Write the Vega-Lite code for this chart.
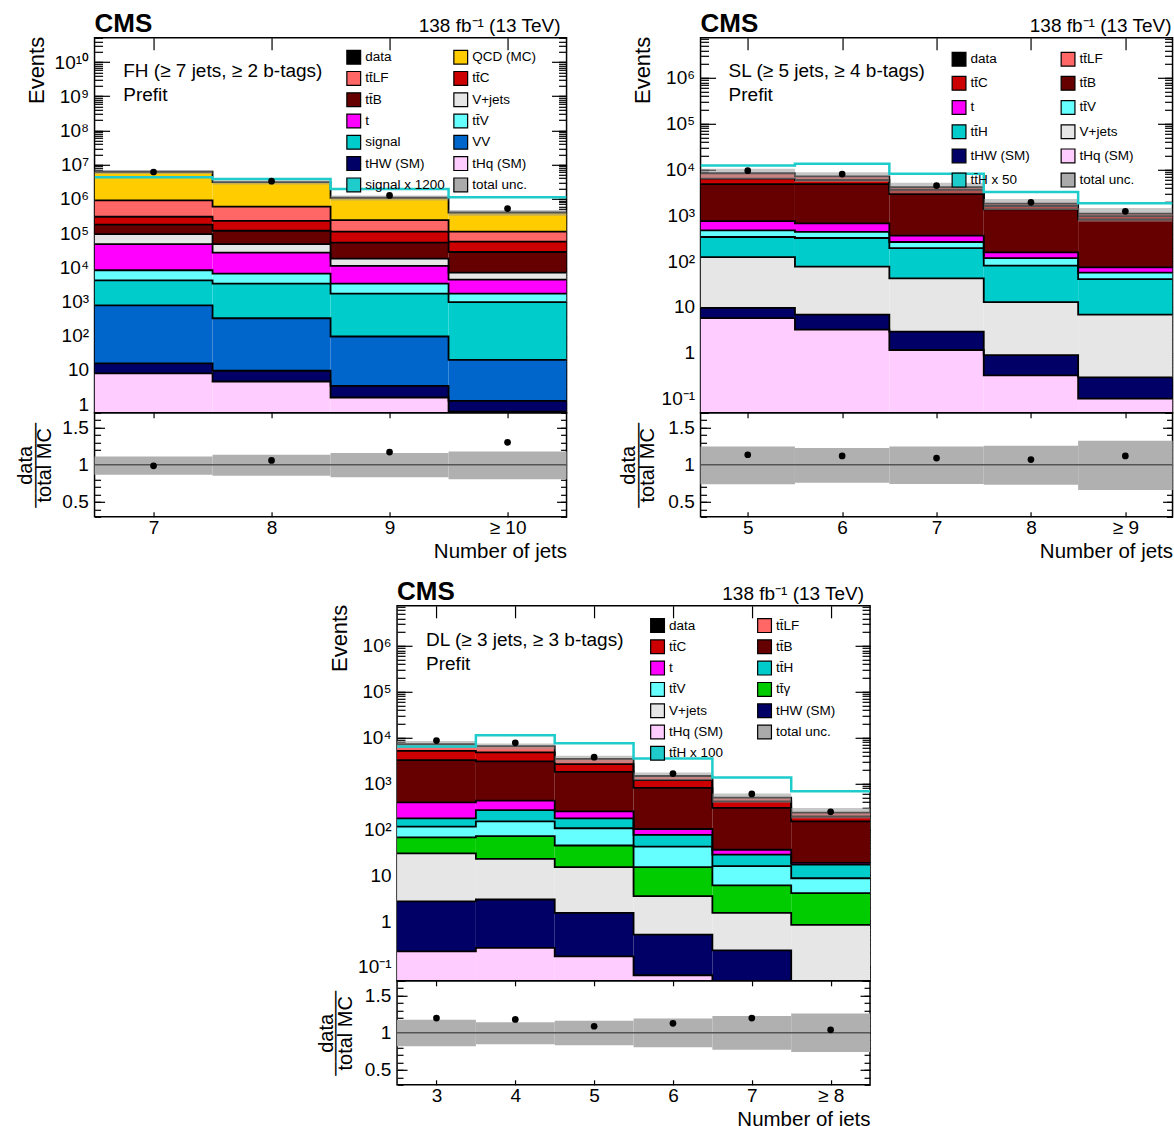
{
"$schema":"https://vega.github.io/schema/vega-lite/v6.json",
"background":"white",
"padding":{"left":14.3,"top":9.8,"right":0,"bottom":0},
"config":{
 "font":"Liberation Sans",
 "view":{"stroke":"black","strokeWidth":1.5},
 "axis":{"domain":false,"grid":false,"labelColor":"black","titleColor":"black","tickColor":"black","tickWidth":1.2,"titleFontWeight":"normal","labelOverlap":false},
 "legend":{"labelFontSize":13.5,"labelColor":"black","symbolSize":190,"labelOffset":4,"symbolType":"square","symbolStrokeColor":"black","symbolStrokeWidth":1.2,"symbolOpacity":1}
},
"datasets":{
 "fh_stack":[
  {"proc":"tHq (SM)","x0":6.5,"x1":7.5,"y0":0.01,"y1":7.9},{"proc":"tHq (SM)","x0":7.5,"x1":8.5,"y0":0.01,"y1":4.6},{"proc":"tHq (SM)","x0":8.5,"x1":9.5,"y0":0.01,"y1":1.57},{"proc":"tHq (SM)","x0":9.5,"x1":10.5,"y0":0.01,"y1":0.6},
  {"proc":"tHW (SM)","x0":6.5,"x1":7.5,"y0":7.9,"y1":15.6},{"proc":"tHW (SM)","x0":7.5,"x1":8.5,"y0":4.6,"y1":9.5},{"proc":"tHW (SM)","x0":8.5,"x1":9.5,"y0":1.57,"y1":3.45},{"proc":"tHW (SM)","x0":9.5,"x1":10.5,"y0":0.6,"y1":1.25},
  {"proc":"VV","x0":6.5,"x1":7.5,"y0":15.6,"y1":770},{"proc":"VV","x0":7.5,"x1":8.5,"y0":9.5,"y1":325},{"proc":"VV","x0":8.5,"x1":9.5,"y0":3.45,"y1":95},{"proc":"VV","x0":9.5,"x1":10.5,"y0":1.25,"y1":19.6},
  {"proc":"signal","x0":6.5,"x1":7.5,"y0":770,"y1":4150},{"proc":"signal","x0":7.5,"x1":8.5,"y0":325,"y1":3330},{"proc":"signal","x0":8.5,"x1":9.5,"y0":95,"y1":1700},{"proc":"signal","x0":9.5,"x1":10.5,"y0":19.6,"y1":960},
  {"proc":"tt\u0304V","x0":6.5,"x1":7.5,"y0":4150,"y1":8200},{"proc":"tt\u0304V","x0":7.5,"x1":8.5,"y0":3330,"y1":6550},{"proc":"tt\u0304V","x0":8.5,"x1":9.5,"y0":1700,"y1":3330},{"proc":"tt\u0304V","x0":9.5,"x1":10.5,"y0":960,"y1":1700},
  {"proc":"t","x0":6.5,"x1":7.5,"y0":8200,"y1":47500},{"proc":"t","x0":7.5,"x1":8.5,"y0":6550,"y1":27000},{"proc":"t","x0":8.5,"x1":9.5,"y0":3330,"y1":11000},{"proc":"t","x0":9.5,"x1":10.5,"y0":1700,"y1":4350},
  {"proc":"V+jets","x0":6.5,"x1":7.5,"y0":47500,"y1":93000},{"proc":"V+jets","x0":7.5,"x1":8.5,"y0":27000,"y1":47500},{"proc":"V+jets","x0":8.5,"x1":9.5,"y0":11000,"y1":18000},{"proc":"V+jets","x0":9.5,"x1":10.5,"y0":4350,"y1":7000},
  {"proc":"tt\u0304B","x0":6.5,"x1":7.5,"y0":93000,"y1":178000},{"proc":"tt\u0304B","x0":7.5,"x1":8.5,"y0":47500,"y1":117000},{"proc":"tt\u0304B","x0":8.5,"x1":9.5,"y0":18000,"y1":53000},{"proc":"tt\u0304B","x0":9.5,"x1":10.5,"y0":7000,"y1":28000},
  {"proc":"tt\u0304C","x0":6.5,"x1":7.5,"y0":178000,"y1":300000},{"proc":"tt\u0304C","x0":7.5,"x1":8.5,"y0":117000,"y1":229000},{"proc":"tt\u0304C","x0":8.5,"x1":9.5,"y0":53000,"y1":110000},{"proc":"tt\u0304C","x0":9.5,"x1":10.5,"y0":28000,"y1":56000},
  {"proc":"tt\u0304LF","x0":6.5,"x1":7.5,"y0":300000,"y1":910000},{"proc":"tt\u0304LF","x0":7.5,"x1":8.5,"y0":229000,"y1":590000},{"proc":"tt\u0304LF","x0":8.5,"x1":9.5,"y0":110000,"y1":240000},{"proc":"tt\u0304LF","x0":9.5,"x1":10.5,"y0":56000,"y1":110000},
  {"proc":"QCD (MC)","x0":6.5,"x1":7.5,"y0":910000,"y1":6200000},{"proc":"QCD (MC)","x0":7.5,"x1":8.5,"y0":590000,"y1":3100000},{"proc":"QCD (MC)","x0":8.5,"x1":9.5,"y0":240000,"y1":1080000},{"proc":"QCD (MC)","x0":9.5,"x1":10.5,"y0":110000,"y1":400000}
 ],
 "fh_bins":[
  {"x0":6.5,"x1":7.5,"xc":7,"data":6110000,"uLo":5360000,"uHi":6900000,"sig":4300000,"r":0.986,"rLo":0.981,"rHi":0.991,"bLo":0.865,"bHi":1.113},
  {"x0":7.5,"x1":8.5,"xc":8,"data":3280000,"uLo":2640000,"uHi":3520000,"sig":3800000,"r":1.059,"rLo":1.054,"rHi":1.064,"bLo":0.851,"bHi":1.135},
  {"x0":8.5,"x1":9.5,"xc":9,"data":1265000,"uLo":900000,"uHi":1250000,"sig":1950000,"r":1.171,"rLo":1.166,"rHi":1.176,"bLo":0.833,"bHi":1.158},
  {"x0":9.5,"x1":10.5,"xc":10,"data":521000,"uLo":322000,"uHi":472000,"sig":1120000,"r":1.302,"rLo":1.296,"rHi":1.308,"bLo":0.806,"bHi":1.18}
 ],
 "sl_stack":[
  {"proc":"tHq (SM)","x0":4.5,"x1":5.5,"y0":0.001,"y1":5.7},{"proc":"tHq (SM)","x0":5.5,"x1":6.5,"y0":0.001,"y1":3.2},{"proc":"tHq (SM)","x0":6.5,"x1":7.5,"y0":0.001,"y1":1.15},{"proc":"tHq (SM)","x0":7.5,"x1":8.5,"y0":0.001,"y1":0.32},{"proc":"tHq (SM)","x0":8.5,"x1":9.5,"y0":0.001,"y1":0.1},
  {"proc":"tHW (SM)","x0":4.5,"x1":5.5,"y0":5.7,"y1":9.6},{"proc":"tHW (SM)","x0":5.5,"x1":6.5,"y0":3.2,"y1":6.8},{"proc":"tHW (SM)","x0":6.5,"x1":7.5,"y0":1.15,"y1":2.9},{"proc":"tHW (SM)","x0":7.5,"x1":8.5,"y0":0.32,"y1":0.89},{"proc":"tHW (SM)","x0":8.5,"x1":9.5,"y0":0.1,"y1":0.29},
  {"proc":"V+jets","x0":4.5,"x1":5.5,"y0":9.6,"y1":122},{"proc":"V+jets","x0":5.5,"x1":6.5,"y0":6.8,"y1":76},{"proc":"V+jets","x0":6.5,"x1":7.5,"y0":2.9,"y1":42},{"proc":"V+jets","x0":7.5,"x1":8.5,"y0":0.89,"y1":12.7},{"proc":"V+jets","x0":8.5,"x1":9.5,"y0":0.29,"y1":6.8},
  {"proc":"tt\u0304H","x0":4.5,"x1":5.5,"y0":122,"y1":337},{"proc":"tt\u0304H","x0":5.5,"x1":6.5,"y0":76,"y1":320},{"proc":"tt\u0304H","x0":6.5,"x1":7.5,"y0":42,"y1":192},{"proc":"tt\u0304H","x0":7.5,"x1":8.5,"y0":12.7,"y1":80},{"proc":"tt\u0304H","x0":8.5,"x1":9.5,"y0":6.8,"y1":40.5},
  {"proc":"tt\u0304V","x0":4.5,"x1":5.5,"y0":337,"y1":470},{"proc":"tt\u0304V","x0":5.5,"x1":6.5,"y0":320,"y1":436},{"proc":"tt\u0304V","x0":6.5,"x1":7.5,"y0":192,"y1":262},{"proc":"tt\u0304V","x0":7.5,"x1":8.5,"y0":80,"y1":116},{"proc":"tt\u0304V","x0":8.5,"x1":9.5,"y0":40.5,"y1":56},
  {"proc":"t","x0":4.5,"x1":5.5,"y0":470,"y1":750},{"proc":"t","x0":5.5,"x1":6.5,"y0":436,"y1":665},{"proc":"t","x0":6.5,"x1":7.5,"y0":262,"y1":360},{"proc":"t","x0":7.5,"x1":8.5,"y0":116,"y1":155},{"proc":"t","x0":8.5,"x1":9.5,"y0":56,"y1":73},
  {"proc":"tt\u0304B","x0":4.5,"x1":5.5,"y0":750,"y1":4800},{"proc":"tt\u0304B","x0":5.5,"x1":6.5,"y0":665,"y1":4800},{"proc":"tt\u0304B","x0":6.5,"x1":7.5,"y0":360,"y1":2900},{"proc":"tt\u0304B","x0":7.5,"x1":8.5,"y0":155,"y1":1350},{"proc":"tt\u0304B","x0":8.5,"x1":9.5,"y0":73,"y1":815},
  {"proc":"tt\u0304C","x0":4.5,"x1":5.5,"y0":4800,"y1":6300},{"proc":"tt\u0304C","x0":5.5,"x1":6.5,"y0":4800,"y1":5900},{"proc":"tt\u0304C","x0":6.5,"x1":7.5,"y0":2900,"y1":3600},{"proc":"tt\u0304C","x0":7.5,"x1":8.5,"y0":1350,"y1":1600},{"proc":"tt\u0304C","x0":8.5,"x1":9.5,"y0":815,"y1":960},
  {"proc":"tt\u0304LF","x0":4.5,"x1":5.5,"y0":6300,"y1":8300},{"proc":"tt\u0304LF","x0":5.5,"x1":6.5,"y0":5900,"y1":7100},{"proc":"tt\u0304LF","x0":6.5,"x1":7.5,"y0":3600,"y1":4100},{"proc":"tt\u0304LF","x0":7.5,"x1":8.5,"y0":1600,"y1":1800},{"proc":"tt\u0304LF","x0":8.5,"x1":9.5,"y0":960,"y1":1090}
 ],
 "sl_bins":[
  {"x0":4.5,"x1":5.5,"xc":5,"data":9420,"uLo":6130,"uHi":10360,"sig":12300,"r":1.135,"rLo":1.123,"rHi":1.147,"bLo":0.739,"bHi":1.248},
  {"x0":5.5,"x1":6.5,"xc":6,"data":7950,"uLo":5375,"uHi":8700,"sig":13400,"r":1.12,"rLo":1.108,"rHi":1.132,"bLo":0.757,"bHi":1.225},
  {"x0":6.5,"x1":7.5,"xc":7,"data":4470,"uLo":3046,"uHi":5117,"sig":8100,"r":1.09,"rLo":1.074,"rHi":1.106,"bLo":0.743,"bHi":1.248},
  {"x0":7.5,"x1":8.5,"xc":8,"data":1926,"uLo":1314,"uHi":2263,"sig":3250,"r":1.07,"rLo":1.046,"rHi":1.094,"bLo":0.73,"bHi":1.257},
  {"x0":8.5,"x1":9.5,"xc":9,"data":1221,"uLo":722,"uHi":1443,"sig":1830,"r":1.12,"rLo":1.09,"rHi":1.15,"bLo":0.662,"bHi":1.324}
 ],
 "dl_stack":[
  {"proc":"tHq (SM)","x0":2.5,"x1":3.5,"y0":0.001,"y1":0.22},{"proc":"tHq (SM)","x0":3.5,"x1":4.5,"y0":0.001,"y1":0.26},{"proc":"tHq (SM)","x0":4.5,"x1":5.5,"y0":0.001,"y1":0.17},{"proc":"tHq (SM)","x0":5.5,"x1":6.5,"y0":0.001,"y1":0.066},{"proc":"tHq (SM)","x0":6.5,"x1":7.5,"y0":0.001,"y1":0.02},{"proc":"tHq (SM)","x0":7.5,"x1":8.5,"y0":0.001,"y1":0.005},
  {"proc":"tHW (SM)","x0":2.5,"x1":3.5,"y0":0.22,"y1":2.7},{"proc":"tHW (SM)","x0":3.5,"x1":4.5,"y0":0.26,"y1":2.96},{"proc":"tHW (SM)","x0":4.5,"x1":5.5,"y0":0.17,"y1":1.52},{"proc":"tHW (SM)","x0":5.5,"x1":6.5,"y0":0.066,"y1":0.51},{"proc":"tHW (SM)","x0":6.5,"x1":7.5,"y0":0.02,"y1":0.23},{"proc":"tHW (SM)","x0":7.5,"x1":8.5,"y0":0.005,"y1":0.01},
  {"proc":"V+jets","x0":2.5,"x1":3.5,"y0":2.7,"y1":30},{"proc":"V+jets","x0":3.5,"x1":4.5,"y0":2.96,"y1":22.7},{"proc":"V+jets","x0":4.5,"x1":5.5,"y0":1.52,"y1":15},{"proc":"V+jets","x0":5.5,"x1":6.5,"y0":0.51,"y1":3.5},{"proc":"V+jets","x0":6.5,"x1":7.5,"y0":0.23,"y1":1.52},{"proc":"V+jets","x0":7.5,"x1":8.5,"y0":0.01,"y1":0.83},
  {"proc":"tt\u0304\u03b3","x0":2.5,"x1":3.5,"y0":30,"y1":67},{"proc":"tt\u0304\u03b3","x0":3.5,"x1":4.5,"y0":22.7,"y1":71},{"proc":"tt\u0304\u03b3","x0":4.5,"x1":5.5,"y0":15,"y1":44.5},{"proc":"tt\u0304\u03b3","x0":5.5,"x1":6.5,"y0":3.5,"y1":15},{"proc":"tt\u0304\u03b3","x0":6.5,"x1":7.5,"y0":1.52,"y1":6},{"proc":"tt\u0304\u03b3","x0":7.5,"x1":8.5,"y0":0.83,"y1":4.07},
  {"proc":"tt\u0304V","x0":2.5,"x1":3.5,"y0":67,"y1":115},{"proc":"tt\u0304V","x0":3.5,"x1":4.5,"y0":71,"y1":150},{"proc":"tt\u0304V","x0":4.5,"x1":5.5,"y0":44.5,"y1":106},{"proc":"tt\u0304V","x0":5.5,"x1":6.5,"y0":15,"y1":42},{"proc":"tt\u0304V","x0":6.5,"x1":7.5,"y0":6,"y1":15.8},{"proc":"tt\u0304V","x0":7.5,"x1":8.5,"y0":4.07,"y1":8.6},
  {"proc":"tt\u0304H","x0":2.5,"x1":3.5,"y0":115,"y1":174},{"proc":"tt\u0304H","x0":3.5,"x1":4.5,"y0":150,"y1":264},{"proc":"tt\u0304H","x0":4.5,"x1":5.5,"y0":106,"y1":174},{"proc":"tt\u0304H","x0":5.5,"x1":6.5,"y0":42,"y1":76},{"proc":"tt\u0304H","x0":6.5,"x1":7.5,"y0":15.8,"y1":28.2},{"proc":"tt\u0304H","x0":7.5,"x1":8.5,"y0":8.6,"y1":17.1},
  {"proc":"t","x0":2.5,"x1":3.5,"y0":174,"y1":388},{"proc":"t","x0":3.5,"x1":4.5,"y0":264,"y1":422},{"proc":"t","x0":4.5,"x1":5.5,"y0":174,"y1":247},{"proc":"t","x0":5.5,"x1":6.5,"y0":76,"y1":102},{"proc":"t","x0":6.5,"x1":7.5,"y0":28.2,"y1":36},{"proc":"t","x0":7.5,"x1":8.5,"y0":17.1,"y1":18.6},
  {"proc":"tt\u0304B","x0":2.5,"x1":3.5,"y0":388,"y1":3240},{"proc":"tt\u0304B","x0":3.5,"x1":4.5,"y0":422,"y1":3030},{"proc":"tt\u0304B","x0":4.5,"x1":5.5,"y0":247,"y1":1800},{"proc":"tt\u0304B","x0":5.5,"x1":6.5,"y0":102,"y1":800},{"proc":"tt\u0304B","x0":6.5,"x1":7.5,"y0":36,"y1":294},{"proc":"tt\u0304B","x0":7.5,"x1":8.5,"y0":18.6,"y1":150},
  {"proc":"tt\u0304C","x0":2.5,"x1":3.5,"y0":3240,"y1":5140},{"proc":"tt\u0304C","x0":3.5,"x1":4.5,"y0":3030,"y1":4760},{"proc":"tt\u0304C","x0":4.5,"x1":5.5,"y0":1800,"y1":2650},{"proc":"tt\u0304C","x0":5.5,"x1":6.5,"y0":800,"y1":1190},{"proc":"tt\u0304C","x0":6.5,"x1":7.5,"y0":294,"y1":409},{"proc":"tt\u0304C","x0":7.5,"x1":8.5,"y0":150,"y1":191},
  {"proc":"tt\u0304LF","x0":2.5,"x1":3.5,"y0":5140,"y1":7200},{"proc":"tt\u0304LF","x0":3.5,"x1":4.5,"y0":4760,"y1":6550},{"proc":"tt\u0304LF","x0":4.5,"x1":5.5,"y0":2650,"y1":3450},{"proc":"tt\u0304LF","x0":5.5,"x1":6.5,"y0":1190,"y1":1460},{"proc":"tt\u0304LF","x0":6.5,"x1":7.5,"y0":409,"y1":495},{"proc":"tt\u0304LF","x0":7.5,"x1":8.5,"y0":191,"y1":232}
 ],
 "dl_bins":[
  {"x0":2.5,"x1":3.5,"xc":3,"data":8626,"uLo":5900,"uHi":8470,"sig":6450,"r":1.198,"rLo":1.186,"rHi":1.21,"bLo":0.819,"bHi":1.176},
  {"x0":3.5,"x1":4.5,"xc":4,"data":7729,"uLo":5540,"uHi":7470,"sig":11300,"r":1.18,"rLo":1.168,"rHi":1.192,"bLo":0.846,"bHi":1.141},
  {"x0":4.5,"x1":5.5,"xc":5,"data":3754,"uLo":2870,"uHi":4010,"sig":7600,"r":1.088,"rLo":1.072,"rHi":1.104,"bLo":0.833,"bHi":1.163},
  {"x0":5.5,"x1":6.5,"xc":6,"data":1647,"uLo":1177,"uHi":1743,"sig":3500,"r":1.128,"rLo":1.108,"rHi":1.148,"bLo":0.806,"bHi":1.194},
  {"x0":6.5,"x1":7.5,"xc":7,"data":593,"uLo":382,"uHi":606,"sig":1350,"r":1.198,"rLo":1.175,"rHi":1.221,"bLo":0.771,"bHi":1.225},
  {"x0":7.5,"x1":8.5,"xc":8,"data":241,"uLo":172,"uHi":292,"sig":675,"r":1.04,"rLo":1.01,"rHi":1.07,"bLo":0.74,"bHi":1.26}
 ]
},
"vconcat":[
 {"hconcat":[
  {"vconcat":[
   {"width":472,"height":375,
    "layer":[
     {"data":{"name":"fh_stack"},"mark":{"type":"rect","clip":true},
      "encoding":{
       "x":{"field":"x0","type":"quantitative","scale":{"domain":[6.5,10.5],"nice":false,"zero":false},"axis":{"orient":"bottom","values":[7,8,9,10],"labels":false,"tickSize":-12,"title":null}},
       "x2":{"field":"x1"},
       "y":{"field":"y1","type":"quantitative","scale":{"type":"log","domain":[0.56,5.1e10],"nice":false},"axis":{"orient":"left","values":[1,10,100,1000,10000,100000,1000000,10000000,100000000,1000000000,10000000000],"labelExpr":"datum.value < 5 ? '1' : datum.value < 50 ? '10' : datum.value < 500 ? '10²' : datum.value < 5000 ? '10³' : datum.value < 50000 ? '10⁴' : datum.value < 500000 ? '10⁵' : datum.value < 5000000 ? '10⁶' : datum.value < 50000000 ? '10⁷' : datum.value < 500000000 ? '10⁸' : datum.value < 5000000000 ? '10⁹' : '10¹⁰'","tickSize":-15,"labelPadding":21,"labelFontSize":19,"title":"Events","titleFontSize":22,"titleAngle":270,"titleAlign":"right","titleBaseline":"alphabetic","titleX":-51,"titleY":-1.5}},
       "y2":{"field":"y0"},
       "color":{"field":"proc","type":"nominal",
        "scale":{"domain":["data","tt\u0304LF","tt\u0304B","t","signal","tHW (SM)","signal x 1200","QCD (MC)","tt\u0304C","V+jets","tt\u0304V","VV","tHq (SM)","total unc."],
                 "range":["#000000","#FF6666","#660000","#FF00FF","#00CCCC","#000066","#1ECCCC","#FFCC00","#CC0000","#E6E6E6","#66FFFF","#0066CC","#FFCCFF","#AAAAAA"]},
        "legend":{"orient":"none","legendX":251.7,"legendY":11.8,"columns":2,"columnPadding":6,"rowPadding":2.3,"title":null}}
      }},
     {"data":{"name":"fh_stack"},"transform":[{"fold":["x0","x1"],"as":["k","xv"]}],
      "mark":{"type":"line","color":"black","strokeWidth":1.8,"clip":true},
      "encoding":{
       "x":{"field":"xv","type":"quantitative","scale":{"domain":[6.5,10.5],"nice":false,"zero":false},"axis":{"orient":"top","values":[7,8,9,10],"labels":false,"tickSize":-12,"title":null}},
       "y":{"field":"y1","type":"quantitative","scale":{"type":"log","domain":[0.56,5.1e10],"nice":false},"axis":{"orient":"right","values":[1,10,100,1000,10000,100000,1000000,10000000,100000000,1000000000,10000000000],"labels":false,"tickSize":-15,"title":null}},
       "detail":{"field":"proc"},
       "order":[{"field":"xv","type":"quantitative"},{"field":"x0","type":"quantitative"}]
      }},
     {"data":{"name":"fh_bins"},"mark":{"type":"rect","color":"#999999","opacity":0.55,"clip":true},
      "encoding":{
       "x":{"field":"x0","type":"quantitative","scale":{"domain":[6.5,10.5],"nice":false,"zero":false},"axis":null},
       "x2":{"field":"x1"},
       "y":{"field":"uLo","type":"quantitative","scale":{"type":"log","domain":[0.56,5.1e10],"nice":false},"axis":{"orient":"left","tickCount":100,"labels":false,"tickSize":-8,"title":null}},
       "y2":{"field":"uHi"}
      }},
     {"data":{"name":"fh_bins"},"transform":[{"fold":["x0","x1"],"as":["k","xv"]}],
      "mark":{"type":"line","color":"#1ECCCC","strokeWidth":2.5,"clip":true},
      "encoding":{
       "x":{"field":"xv","type":"quantitative","scale":{"domain":[6.5,10.5],"nice":false,"zero":false},"axis":null},
       "y":{"field":"sig","type":"quantitative","scale":{"type":"log","domain":[0.56,5.1e10],"nice":false},"axis":{"orient":"right","tickCount":100,"labels":false,"tickSize":-8,"title":null}},
       "order":[{"field":"xv","type":"quantitative"},{"field":"x0","type":"quantitative"}]
      }},
     {"data":{"name":"fh_bins"},"mark":{"type":"point","filled":true,"color":"black","size":45,"opacity":1},
      "encoding":{
       "x":{"field":"xc","type":"quantitative","scale":{"domain":[6.5,10.5],"nice":false,"zero":false},"axis":null},
       "y":{"field":"data","type":"quantitative","scale":{"type":"log","domain":[0.56,5.1e10],"nice":false},"axis":null}
      }},
     {"data":{"values":[{}]},"mark":{"type":"text","align":"left","baseline":"middle","fontSize":19},
      "encoding":{"x":{"datum":6.743,"type":"quantitative","scale":{"domain":[6.5,10.5],"nice":false,"zero":false},"axis":null},"y":{"datum":5.4e9,"type":"quantitative","scale":{"type":"log","domain":[0.56,5.1e10],"nice":false},"axis":null},"text":{"value":"FH (≥ 7 jets, ≥ 2 b-tags)"}}},
     {"data":{"values":[{}]},"mark":{"type":"text","align":"left","baseline":"middle","fontSize":19},
      "encoding":{"x":{"datum":6.743,"type":"quantitative","scale":{"domain":[6.5,10.5],"nice":false,"zero":false},"axis":null},"y":{"datum":1.07e9,"type":"quantitative","scale":{"type":"log","domain":[0.56,5.1e10],"nice":false},"axis":null},"text":{"value":"Prefit"}}},
     {"data":{"values":[{}]},"mark":{"type":"text","align":"left","baseline":"alphabetic","fontSize":26,"fontWeight":"bold"},
      "encoding":{"x":{"datum":6.5,"type":"quantitative","scale":{"domain":[6.5,10.5],"nice":false,"zero":false},"axis":null},"y":{"datum":7.6e10,"type":"quantitative","scale":{"type":"log","domain":[0.56,5.1e10],"nice":false},"axis":null},"text":{"value":"CMS"}}},
     {"data":{"values":[{}]},"mark":{"type":"text","align":"right","baseline":"alphabetic","fontSize":19},
      "encoding":{"x":{"datum":10.449,"type":"quantitative","scale":{"domain":[6.5,10.5],"nice":false,"zero":false},"axis":null},"y":{"datum":7.6e10,"type":"quantitative","scale":{"type":"log","domain":[0.56,5.1e10],"nice":false},"axis":null},"text":{"value":"138 fb⁻¹ (13 TeV)"}}}
    ],
    "resolve":{"axis":{"x":"independent","y":"independent"}}
   },
   {"width":472,"height":104,
    "layer":[
     {"data":{"name":"fh_bins"},"mark":{"type":"rect","color":"#B0B0B0"},
      "encoding":{
       "x":{"field":"x0","type":"quantitative","scale":{"domain":[6.5,10.5],"nice":false,"zero":false},"axis":{"orient":"bottom","values":[7,8,9,10],"format":"d","labelExpr":"datum.value == 10 ? '≥ 10' : datum.label","tickSize":-5,"labelPadding":6.3,"labelFontSize":19,"title":"Number of jets","titleFontSize":20.5,"titleAlign":"right","titleBaseline":"alphabetic","titleX":472,"titleY":40.5}},
       "x2":{"field":"x1"},
       "y":{"field":"bLo","type":"quantitative","scale":{"domain":[0.3,1.7],"nice":false,"zero":false},"axis":{"orient":"left","values":[0.5,1,1.5],"labelExpr":"datum.value == 1 ? '1' : datum.label","tickSize":-10,"labelPadding":16.3,"labelFontSize":19,"title":["data","──────","total MC"],"titleFontSize":20,"titleLineHeight":9.5,"titleAngle":270,"titleAlign":"center","titleBaseline":"alphabetic","titleX":-63,"titleY":52}},
       "y2":{"field":"bHi"}
      }},
     {"data":{"values":[{}]},"mark":{"type":"rule","color":"#555555","strokeWidth":1.5},
      "encoding":{"y":{"datum":1,"type":"quantitative","scale":{"domain":[0.3,1.7],"nice":false,"zero":false},"axis":null}}},
     {"data":{"name":"fh_bins"},"mark":{"type":"rule","color":"black","strokeWidth":1.5},
      "encoding":{
       "x":{"field":"xc","type":"quantitative","scale":{"domain":[6.5,10.5],"nice":false,"zero":false},"axis":null},
       "y":{"field":"rLo","type":"quantitative","scale":{"domain":[0.3,1.7],"nice":false,"zero":false},"axis":{"orient":"left","values":[0.3,0.4,0.5,0.6,0.7,0.8,0.9,1,1.1,1.2,1.3,1.4,1.5,1.6,1.7],"labels":false,"tickSize":-6,"title":null}},
       "y2":{"field":"rHi"}
      }},
     {"data":{"name":"fh_bins"},"mark":{"type":"rule","color":"black","strokeWidth":1.5},
      "encoding":{
       "x":{"field":"xc","type":"quantitative","scale":{"domain":[6.5,10.5],"nice":false,"zero":false},"axis":null},
       "y":{"field":"rLo","type":"quantitative","scale":{"domain":[0.3,1.7],"nice":false,"zero":false},"axis":{"orient":"right","values":[0.3,0.4,0.5,0.6,0.7,0.8,0.9,1,1.1,1.2,1.3,1.4,1.5,1.6,1.7],"labels":false,"tickSize":-6,"title":null}},
       "y2":{"field":"rHi"}
      }},
     {"data":{"name":"fh_bins"},"mark":{"type":"point","filled":true,"color":"black","size":45,"opacity":1},
      "encoding":{
       "x":{"field":"xc","type":"quantitative","scale":{"domain":[6.5,10.5],"nice":false,"zero":false},"axis":{"orient":"top","values":[7,8,9,10],"labels":false,"tickSize":-5,"title":null}},
       "y":{"field":"r","type":"quantitative","scale":{"domain":[0.3,1.7],"nice":false,"zero":false},"axis":{"orient":"right","values":[0.5,1,1.5],"labels":false,"tickSize":-10,"title":null}}
      }}
    ],
    "resolve":{"axis":{"x":"independent","y":"independent"}}
   }
  ],"spacing":0,"bounds":"flush"},
  {"vconcat":[
   {"width":472,"height":375,
    "layer":[
     {"data":{"name":"sl_stack"},"mark":{"type":"rect","clip":true},
      "encoding":{
       "x":{"field":"x0","type":"quantitative","scale":{"domain":[4.5,9.5],"nice":false,"zero":false},"axis":{"orient":"bottom","values":[5,6,7,8,9],"labels":false,"tickSize":-12,"title":null}},
       "x2":{"field":"x1"},
       "y":{"field":"y1","type":"quantitative","scale":{"type":"log","domain":[0.049,7.5e6],"nice":false},"axis":{"orient":"left","values":[0.1,1,10,100,1000,10000,100000,1000000],"labelExpr":"datum.value < 0.5 ? '10⁻¹' : datum.value < 5 ? '1' : datum.value < 50 ? '10' : datum.value < 500 ? '10²' : datum.value < 5000 ? '10³' : datum.value < 50000 ? '10⁴' : datum.value < 500000 ? '10⁵' : '10⁶'","tickSize":-15,"labelPadding":21,"labelFontSize":19,"title":"Events","titleFontSize":22,"titleAngle":270,"titleAlign":"right","titleBaseline":"alphabetic","titleX":-51,"titleY":-1.5}},
       "y2":{"field":"y0"},
       "color":{"field":"proc","type":"nominal",
        "scale":{"domain":["data","tt\u0304C","t","tt\u0304H","tHW (SM)","tt\u0304H x 50","tt\u0304LF","tt\u0304B","tt\u0304V","V+jets","tHq (SM)","total unc."],
                 "range":["#000000","#CC0000","#FF00FF","#00CCCC","#000066","#1ECCCC","#FF6666","#660000","#66FFFF","#E6E6E6","#FFCCFF","#AAAAAA"]},
        "legend":{"orient":"none","legendX":251,"legendY":13.8,"columns":2,"columnPadding":28,"rowPadding":5.2,"title":null}}
      }},
     {"data":{"name":"sl_stack"},"transform":[{"fold":["x0","x1"],"as":["k","xv"]}],
      "mark":{"type":"line","color":"black","strokeWidth":1.8,"clip":true},
      "encoding":{
       "x":{"field":"xv","type":"quantitative","scale":{"domain":[4.5,9.5],"nice":false,"zero":false},"axis":{"orient":"top","values":[5,6,7,8,9],"labels":false,"tickSize":-12,"title":null}},
       "y":{"field":"y1","type":"quantitative","scale":{"type":"log","domain":[0.049,7.5e6],"nice":false},"axis":{"orient":"right","values":[0.1,1,10,100,1000,10000,100000,1000000],"labels":false,"tickSize":-15,"title":null}},
       "detail":{"field":"proc"},
       "order":[{"field":"xv","type":"quantitative"},{"field":"x0","type":"quantitative"}]
      }},
     {"data":{"name":"sl_bins"},"mark":{"type":"rect","color":"#999999","opacity":0.55,"clip":true},
      "encoding":{
       "x":{"field":"x0","type":"quantitative","scale":{"domain":[4.5,9.5],"nice":false,"zero":false},"axis":null},
       "x2":{"field":"x1"},
       "y":{"field":"uLo","type":"quantitative","scale":{"type":"log","domain":[0.049,7.5e6],"nice":false},"axis":{"orient":"left","tickCount":100,"labels":false,"tickSize":-8,"title":null}},
       "y2":{"field":"uHi"}
      }},
     {"data":{"name":"sl_bins"},"transform":[{"fold":["x0","x1"],"as":["k","xv"]}],
      "mark":{"type":"line","color":"#1ECCCC","strokeWidth":2.5,"clip":true},
      "encoding":{
       "x":{"field":"xv","type":"quantitative","scale":{"domain":[4.5,9.5],"nice":false,"zero":false},"axis":null},
       "y":{"field":"sig","type":"quantitative","scale":{"type":"log","domain":[0.049,7.5e6],"nice":false},"axis":{"orient":"right","tickCount":100,"labels":false,"tickSize":-8,"title":null}},
       "order":[{"field":"xv","type":"quantitative"},{"field":"x0","type":"quantitative"}]
      }},
     {"data":{"name":"sl_bins"},"mark":{"type":"point","filled":true,"color":"black","size":45,"opacity":1},
      "encoding":{
       "x":{"field":"xc","type":"quantitative","scale":{"domain":[4.5,9.5],"nice":false,"zero":false},"axis":null},
       "y":{"field":"data","type":"quantitative","scale":{"type":"log","domain":[0.049,7.5e6],"nice":false},"axis":null}
      }},
     {"data":{"values":[{}]},"mark":{"type":"text","align":"left","baseline":"middle","fontSize":19},
      "encoding":{"x":{"datum":4.797,"type":"quantitative","scale":{"domain":[4.5,9.5],"nice":false,"zero":false},"axis":null},"y":{"datum":1.4e6,"type":"quantitative","scale":{"type":"log","domain":[0.049,7.5e6],"nice":false},"axis":null},"text":{"value":"SL (≥ 5 jets, ≥ 4 b-tags)"}}},
     {"data":{"values":[{}]},"mark":{"type":"text","align":"left","baseline":"middle","fontSize":19},
      "encoding":{"x":{"datum":4.797,"type":"quantitative","scale":{"domain":[4.5,9.5],"nice":false,"zero":false},"axis":null},"y":{"datum":4.19e5,"type":"quantitative","scale":{"type":"log","domain":[0.049,7.5e6],"nice":false},"axis":null},"text":{"value":"Prefit"}}},
     {"data":{"values":[{}]},"mark":{"type":"text","align":"left","baseline":"alphabetic","fontSize":26,"fontWeight":"bold"},
      "encoding":{"x":{"datum":4.5,"type":"quantitative","scale":{"domain":[4.5,9.5],"nice":false,"zero":false},"axis":null},"y":{"datum":1.01e7,"type":"quantitative","scale":{"type":"log","domain":[0.049,7.5e6],"nice":false},"axis":null},"text":{"value":"CMS"}}},
     {"data":{"values":[{}]},"mark":{"type":"text","align":"right","baseline":"alphabetic","fontSize":19},
      "encoding":{"x":{"datum":9.49,"type":"quantitative","scale":{"domain":[4.5,9.5],"nice":false,"zero":false},"axis":null},"y":{"datum":1.01e7,"type":"quantitative","scale":{"type":"log","domain":[0.049,7.5e6],"nice":false},"axis":null},"text":{"value":"138 fb⁻¹ (13 TeV)"}}}
    ],
    "resolve":{"axis":{"x":"independent","y":"independent"}}
   },
   {"width":472,"height":104,
    "layer":[
     {"data":{"name":"sl_bins"},"mark":{"type":"rect","color":"#B0B0B0"},
      "encoding":{
       "x":{"field":"x0","type":"quantitative","scale":{"domain":[4.5,9.5],"nice":false,"zero":false},"axis":{"orient":"bottom","values":[5,6,7,8,9],"format":"d","labelExpr":"datum.value == 9 ? '≥ 9' : datum.label","tickSize":-5,"labelPadding":6.3,"labelFontSize":19,"title":"Number of jets","titleFontSize":20.5,"titleAlign":"right","titleBaseline":"alphabetic","titleX":472,"titleY":40.5}},
       "x2":{"field":"x1"},
       "y":{"field":"bLo","type":"quantitative","scale":{"domain":[0.3,1.7],"nice":false,"zero":false},"axis":{"orient":"left","values":[0.5,1,1.5],"labelExpr":"datum.value == 1 ? '1' : datum.label","tickSize":-10,"labelPadding":16.3,"labelFontSize":19,"title":["data","──────","total MC"],"titleFontSize":20,"titleLineHeight":9.5,"titleAngle":270,"titleAlign":"center","titleBaseline":"alphabetic","titleX":-66,"titleY":52}},
       "y2":{"field":"bHi"}
      }},
     {"data":{"values":[{}]},"mark":{"type":"rule","color":"#555555","strokeWidth":1.5},
      "encoding":{"y":{"datum":1,"type":"quantitative","scale":{"domain":[0.3,1.7],"nice":false,"zero":false},"axis":null}}},
     {"data":{"name":"sl_bins"},"mark":{"type":"rule","color":"black","strokeWidth":1.5},
      "encoding":{
       "x":{"field":"xc","type":"quantitative","scale":{"domain":[4.5,9.5],"nice":false,"zero":false},"axis":null},
       "y":{"field":"rLo","type":"quantitative","scale":{"domain":[0.3,1.7],"nice":false,"zero":false},"axis":{"orient":"left","values":[0.3,0.4,0.5,0.6,0.7,0.8,0.9,1,1.1,1.2,1.3,1.4,1.5,1.6,1.7],"labels":false,"tickSize":-6,"title":null}},
       "y2":{"field":"rHi"}
      }},
     {"data":{"name":"sl_bins"},"mark":{"type":"rule","color":"black","strokeWidth":1.5},
      "encoding":{
       "x":{"field":"xc","type":"quantitative","scale":{"domain":[4.5,9.5],"nice":false,"zero":false},"axis":null},
       "y":{"field":"rLo","type":"quantitative","scale":{"domain":[0.3,1.7],"nice":false,"zero":false},"axis":{"orient":"right","values":[0.3,0.4,0.5,0.6,0.7,0.8,0.9,1,1.1,1.2,1.3,1.4,1.5,1.6,1.7],"labels":false,"tickSize":-6,"title":null}},
       "y2":{"field":"rHi"}
      }},
     {"data":{"name":"sl_bins"},"mark":{"type":"point","filled":true,"color":"black","size":45,"opacity":1},
      "encoding":{
       "x":{"field":"xc","type":"quantitative","scale":{"domain":[4.5,9.5],"nice":false,"zero":false},"axis":{"orient":"top","values":[5,6,7,8,9],"labels":false,"tickSize":-5,"title":null}},
       "y":{"field":"r","type":"quantitative","scale":{"domain":[0.3,1.7],"nice":false,"zero":false},"axis":{"orient":"right","values":[0.5,1,1.5],"labels":false,"tickSize":-10,"title":null}}
      }}
    ],
    "resolve":{"axis":{"x":"independent","y":"independent"}}
   }
  ],"spacing":0,"bounds":"flush"}
 ],"spacing":49,"resolve":{"scale":{"color":"independent"},"legend":{"color":"independent"}}},
 {"vconcat":[
   {"width":473,"height":375,
    "layer":[
     {"data":{"name":"dl_stack"},"mark":{"type":"rect","clip":true},
      "encoding":{
       "x":{"field":"x0","type":"quantitative","scale":{"domain":[2.5,8.5],"nice":false,"zero":false},"axis":{"orient":"bottom","values":[3,4,5,6,7,8],"labels":false,"tickSize":-12,"title":null}},
       "x2":{"field":"x1"},
       "y":{"field":"y1","type":"quantitative","scale":{"type":"log","domain":[0.05,7.5e6],"nice":false},"axis":{"orient":"left","values":[0.1,1,10,100,1000,10000,100000,1000000],"labelExpr":"datum.value < 0.5 ? '10⁻¹' : datum.value < 5 ? '1' : datum.value < 50 ? '10' : datum.value < 500 ? '10²' : datum.value < 5000 ? '10³' : datum.value < 50000 ? '10⁴' : datum.value < 500000 ? '10⁵' : '10⁶'","tickSize":-15,"labelPadding":21,"labelFontSize":19,"title":"Events","titleFontSize":22,"titleAngle":270,"titleAlign":"right","titleBaseline":"alphabetic","titleX":-51,"titleY":-1.5}},
       "y2":{"field":"y0"},
       "color":{"field":"proc","type":"nominal",
        "scale":{"domain":["data","tt\u0304C","t","tt\u0304V","V+jets","tHq (SM)","tt\u0304H x 100","tt\u0304LF","tt\u0304B","tt\u0304H","tt\u0304\u03b3","tHW (SM)","total unc."],
                 "range":["#000000","#CC0000","#FF00FF","#66FFFF","#E6E6E6","#FFCCFF","#1ECCCC","#FF6666","#660000","#00CCCC","#00CC00","#000066","#AAAAAA"]},
        "legend":{"orient":"none","legendX":253,"legendY":12.2,"columns":2,"columnPadding":31,"rowPadding":2.3,"title":null}}
      }},
     {"data":{"name":"dl_stack"},"transform":[{"fold":["x0","x1"],"as":["k","xv"]}],
      "mark":{"type":"line","color":"black","strokeWidth":1.8,"clip":true},
      "encoding":{
       "x":{"field":"xv","type":"quantitative","scale":{"domain":[2.5,8.5],"nice":false,"zero":false},"axis":{"orient":"top","values":[3,4,5,6,7,8],"labels":false,"tickSize":-12,"title":null}},
       "y":{"field":"y1","type":"quantitative","scale":{"type":"log","domain":[0.05,7.5e6],"nice":false},"axis":{"orient":"right","values":[0.1,1,10,100,1000,10000,100000,1000000],"labels":false,"tickSize":-15,"title":null}},
       "detail":{"field":"proc"},
       "order":[{"field":"xv","type":"quantitative"},{"field":"x0","type":"quantitative"}]
      }},
     {"data":{"name":"dl_bins"},"mark":{"type":"rect","color":"#999999","opacity":0.55,"clip":true},
      "encoding":{
       "x":{"field":"x0","type":"quantitative","scale":{"domain":[2.5,8.5],"nice":false,"zero":false},"axis":null},
       "x2":{"field":"x1"},
       "y":{"field":"uLo","type":"quantitative","scale":{"type":"log","domain":[0.05,7.5e6],"nice":false},"axis":{"orient":"left","tickCount":100,"labels":false,"tickSize":-8,"title":null}},
       "y2":{"field":"uHi"}
      }},
     {"data":{"name":"dl_bins"},"transform":[{"fold":["x0","x1"],"as":["k","xv"]}],
      "mark":{"type":"line","color":"#1ECCCC","strokeWidth":2.5,"clip":true},
      "encoding":{
       "x":{"field":"xv","type":"quantitative","scale":{"domain":[2.5,8.5],"nice":false,"zero":false},"axis":null},
       "y":{"field":"sig","type":"quantitative","scale":{"type":"log","domain":[0.05,7.5e6],"nice":false},"axis":{"orient":"right","tickCount":100,"labels":false,"tickSize":-8,"title":null}},
       "order":[{"field":"xv","type":"quantitative"},{"field":"x0","type":"quantitative"}]
      }},
     {"data":{"name":"dl_bins"},"mark":{"type":"point","filled":true,"color":"black","size":45,"opacity":1},
      "encoding":{
       "x":{"field":"xc","type":"quantitative","scale":{"domain":[2.5,8.5],"nice":false,"zero":false},"axis":null},
       "y":{"field":"data","type":"quantitative","scale":{"type":"log","domain":[0.05,7.5e6],"nice":false},"axis":null}
      }},
     {"data":{"values":[{}]},"mark":{"type":"text","align":"left","baseline":"middle","fontSize":19},
      "encoding":{"x":{"datum":2.868,"type":"quantitative","scale":{"domain":[2.5,8.5],"nice":false,"zero":false},"axis":null},"y":{"datum":1.37e6,"type":"quantitative","scale":{"type":"log","domain":[0.05,7.5e6],"nice":false},"axis":null},"text":{"value":"DL (≥ 3 jets, ≥ 3 b-tags)"}}},
     {"data":{"values":[{}]},"mark":{"type":"text","align":"left","baseline":"middle","fontSize":19},
      "encoding":{"x":{"datum":2.868,"type":"quantitative","scale":{"domain":[2.5,8.5],"nice":false,"zero":false},"axis":null},"y":{"datum":4.13e5,"type":"quantitative","scale":{"type":"log","domain":[0.05,7.5e6],"nice":false},"axis":null},"text":{"value":"Prefit"}}},
     {"data":{"values":[{}]},"mark":{"type":"text","align":"left","baseline":"alphabetic","fontSize":26,"fontWeight":"bold"},
      "encoding":{"x":{"datum":2.5,"type":"quantitative","scale":{"domain":[2.5,8.5],"nice":false,"zero":false},"axis":null},"y":{"datum":1.01e7,"type":"quantitative","scale":{"type":"log","domain":[0.05,7.5e6],"nice":false},"axis":null},"text":{"value":"CMS"}}},
     {"data":{"values":[{}]},"mark":{"type":"text","align":"right","baseline":"alphabetic","fontSize":19},
      "encoding":{"x":{"datum":8.424,"type":"quantitative","scale":{"domain":[2.5,8.5],"nice":false,"zero":false},"axis":null},"y":{"datum":1.01e7,"type":"quantitative","scale":{"type":"log","domain":[0.05,7.5e6],"nice":false},"axis":null},"text":{"value":"138 fb⁻¹ (13 TeV)"}}}
    ],
    "resolve":{"axis":{"x":"independent","y":"independent"}}
   },
   {"width":473,"height":104,
    "layer":[
     {"data":{"name":"dl_bins"},"mark":{"type":"rect","color":"#B0B0B0"},
      "encoding":{
       "x":{"field":"x0","type":"quantitative","scale":{"domain":[2.5,8.5],"nice":false,"zero":false},"axis":{"orient":"bottom","values":[3,4,5,6,7,8],"format":"d","labelExpr":"datum.value == 8 ? '≥ 8' : datum.label","tickSize":-5,"labelPadding":6.3,"labelFontSize":19,"title":"Number of jets","titleFontSize":20.5,"titleAlign":"right","titleBaseline":"alphabetic","titleX":473,"titleY":40.5}},
       "x2":{"field":"x1"},
       "y":{"field":"bLo","type":"quantitative","scale":{"domain":[0.3,1.7],"nice":false,"zero":false},"axis":{"orient":"left","values":[0.5,1,1.5],"labelExpr":"datum.value == 1 ? '1' : datum.label","tickSize":-10,"labelPadding":16.3,"labelFontSize":19,"title":["data","──────","total MC"],"titleFontSize":20,"titleLineHeight":9.5,"titleAngle":270,"titleAlign":"center","titleBaseline":"alphabetic","titleX":-65,"titleY":52}},
       "y2":{"field":"bHi"}
      }},
     {"data":{"values":[{}]},"mark":{"type":"rule","color":"#555555","strokeWidth":1.5},
      "encoding":{"y":{"datum":1,"type":"quantitative","scale":{"domain":[0.3,1.7],"nice":false,"zero":false},"axis":null}}},
     {"data":{"name":"dl_bins"},"mark":{"type":"rule","color":"black","strokeWidth":1.5},
      "encoding":{
       "x":{"field":"xc","type":"quantitative","scale":{"domain":[2.5,8.5],"nice":false,"zero":false},"axis":null},
       "y":{"field":"rLo","type":"quantitative","scale":{"domain":[0.3,1.7],"nice":false,"zero":false},"axis":{"orient":"left","values":[0.3,0.4,0.5,0.6,0.7,0.8,0.9,1,1.1,1.2,1.3,1.4,1.5,1.6,1.7],"labels":false,"tickSize":-6,"title":null}},
       "y2":{"field":"rHi"}
      }},
     {"data":{"name":"dl_bins"},"mark":{"type":"rule","color":"black","strokeWidth":1.5},
      "encoding":{
       "x":{"field":"xc","type":"quantitative","scale":{"domain":[2.5,8.5],"nice":false,"zero":false},"axis":null},
       "y":{"field":"rLo","type":"quantitative","scale":{"domain":[0.3,1.7],"nice":false,"zero":false},"axis":{"orient":"right","values":[0.3,0.4,0.5,0.6,0.7,0.8,0.9,1,1.1,1.2,1.3,1.4,1.5,1.6,1.7],"labels":false,"tickSize":-6,"title":null}},
       "y2":{"field":"rHi"}
      }},
     {"data":{"name":"dl_bins"},"mark":{"type":"point","filled":true,"color":"black","size":45,"opacity":1},
      "encoding":{
       "x":{"field":"xc","type":"quantitative","scale":{"domain":[2.5,8.5],"nice":false,"zero":false},"axis":{"orient":"top","values":[3,4,5,6,7,8],"labels":false,"tickSize":-5,"title":null}},
       "y":{"field":"r","type":"quantitative","scale":{"domain":[0.3,1.7],"nice":false,"zero":false},"axis":{"orient":"right","values":[0.5,1,1.5],"labels":false,"tickSize":-10,"title":null}}
      }}
    ],
    "resolve":{"axis":{"x":"independent","y":"independent"}}
   }
 ],"spacing":0,"bounds":"flush"}
],
"spacing":15,"center":true,
"resolve":{"scale":{"color":"independent"},"legend":{"color":"independent"}}
}
